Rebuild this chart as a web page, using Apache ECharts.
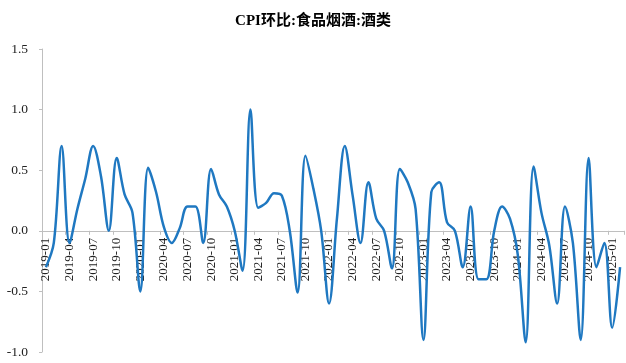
<!DOCTYPE html>
<html>
<head>
<meta charset="utf-8">
<script src="https://cdn.jsdelivr.net/npm/echarts@6/dist/echarts.min.js"></script>
<style>html,body{margin:0;padding:0;background:#fff}#c{width:626px;height:363px}</style>
</head>
<body>
<div id="c"></div>
<script>
const titleText = 'CPI环比:食品烟酒:酒类';
const startYear = 2019;
const monthCount = 74;
const categories = [];
for (let k = 0; k < monthCount; k++) {
  const y = startYear + Math.floor(k / 12);
  const m = (k % 12) + 1;
  categories.push(y + '-' + (m < 10 ? '0' + m : m));
}
const values = [
  -0.3, -0.1, 0.7, -0.1, 0.18, 0.43, 0.7, 0.45, 0.0, 0.6, 0.3, 0.15,
  -0.5, 0.52, 0.32, 0.03, -0.1, 0.02, 0.2, 0.2, -0.1, 0.51, 0.3, 0.2,
  0.0, -0.33, 1.0, 0.19, 0.23, 0.31, 0.29, 0.0, -0.51, 0.62, 0.35, 0.0,
  -0.6, 0.1, 0.7, 0.29, -0.1, 0.4, 0.1, 0.0, -0.31, 0.51, 0.4, 0.18,
  -0.9, 0.32, 0.4, 0.07, 0.0, -0.3, 0.2, -0.4, -0.4, 0.0, 0.2, 0.1,
  -0.2, -0.92, 0.53, 0.15, -0.12, -0.6, 0.2, -0.1, -0.9, 0.6, -0.3, -0.1,
  -0.8, -0.3
];
const yTicks = { min: -1.0, max: 1.5, interval: 0.5 };

const chart = echarts.init(document.getElementById('c'));
const option = {
  animation: false,
  backgroundColor: '#fff',
  title: {
    text: titleText,
    left: 'center',
    top: 9,
    textStyle: { fontFamily: 'Liberation Serif, Noto Sans CJK SC', fontSize: 15, fontWeight: 'bold', color: '#000' }
  },
  grid: { left: 42, right: 2, top: 49, bottom: 11, containLabel: false, outerBoundsMode: 'none' },
  xAxis: {
    type: 'category',
    position: 'bottom',
    offset: 0,
    z: 0,
    data: categories,
    boundaryGap: true,
    axisLine: { show: true, onZero: false, lineStyle: { color: '#bfbfbf', width: 1 } },
    axisTick: { show: true, interval: 2, length: 4, lineStyle: { color: '#bfbfbf' } },
    axisLabel: {
      interval: 2,
      rotate: 90,
      margin: 7,
      fontFamily: 'Liberation Serif',
      fontSize: 13,
      color: '#222'
    }
  },
  yAxis: {
    type: 'value',
    min: yTicks.min,
    max: yTicks.max,
    interval: yTicks.interval,
    splitLine: { show: false },
    axisLine: { show: true, onZero: false, lineStyle: { color: '#bfbfbf', width: 1 } },
    axisTick: { show: true, length: 3, inside: false, lineStyle: { color: '#bfbfbf' } },
    axisLabel: {
      margin: 14,
      fontFamily: 'Liberation Serif',
      fontSize: 13.5,
      color: '#222',
      formatter: v => v.toFixed(1)
    }
  },
  series: [{
    type: 'line',
    z: 5,
    data: values,
    smooth: 0.35,
    showSymbol: false,
    lineStyle: { color: '#1f78c1', width: 2.5 },
    itemStyle: { color: '#1f78c1' }
  }]
};
chart.setOption(option);
// place the category axis on the value axis' zero line, using the library's own scale
const yZero = chart.convertToPixel({ yAxisIndex: 0 }, 0);
const yBottom = chart.convertToPixel({ yAxisIndex: 0 }, yTicks.min);
chart.setOption({ xAxis: { offset: yZero - yBottom } });
</script>
</body>
</html>
